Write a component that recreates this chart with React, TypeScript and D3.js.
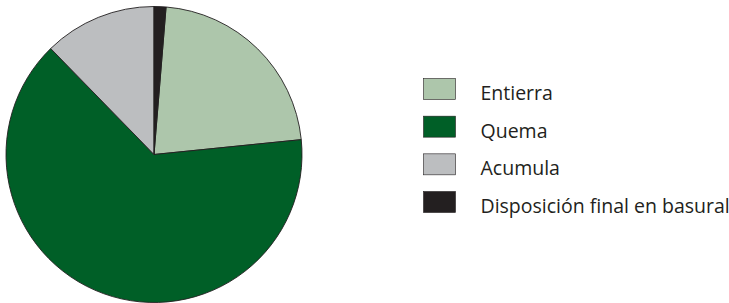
import React from 'react';
import * as d3 from 'd3';

// Datos del gráfico (porcentajes estimados)
const categories = ['Entierra', 'Quema', 'Acumula', 'Disposición final en basural'];
const values = [22.1, 64.3, 12.3, 1.3];
const colors = ['#adc6ab', '#005f27', '#bcbec0', '#231f20'];

const App: React.FC = () => {
  const width = 729;
  const height = 303;
  const cx = 154;
  const cy = 154.5;
  const radius = 148;

  const data = categories.map((c, i) => ({ category: c, value: values[i], color: colors[i] }));
  const total = d3.sum(values);
  // El sector de "Disposición" empieza en las 12
  const start = (values[3] / total) * 2 * Math.PI;

  const pie = d3.pie<typeof data[0]>()
    .sort(null)
    .value(d => d.value)
    .startAngle(start)
    .endAngle(start + 2 * Math.PI);

  const arc = d3.arc<d3.PieArcDatum<typeof data[0]>>()
    .innerRadius(0)
    .outerRadius(radius);

  const legendY = d3.scalePoint<string>()
    .domain(categories)
    .range([89, 202]);

  return (
    <svg width={width} height={height} style={{ position: 'absolute', left: 0, top: 0, background: '#fff' }}>
      <g transform={`translate(${cx},${cy})`}>
        {pie(data).map(d => (
          <path key={d.data.category} d={arc(d) || ''} fill={d.data.color} stroke="#231f20" strokeWidth={0.9} strokeLinejoin="round" />
        ))}
      </g>
      <g fontFamily="'Open Sans', sans-serif" fontSize={19.5} fill="#231f20">
        {data.map(d => {
          const y = legendY(d.category)!;
          return (
            <g key={d.category}>
              <rect x={423.5} y={y - 10.5} width={32} height={21} fill={d.color} stroke="#231f20" strokeWidth={0.6} />
              <text x={480.5} y={y + 11}>{d.category}</text>
            </g>
          );
        })}
      </g>
    </svg>
  );
};

export default App;
